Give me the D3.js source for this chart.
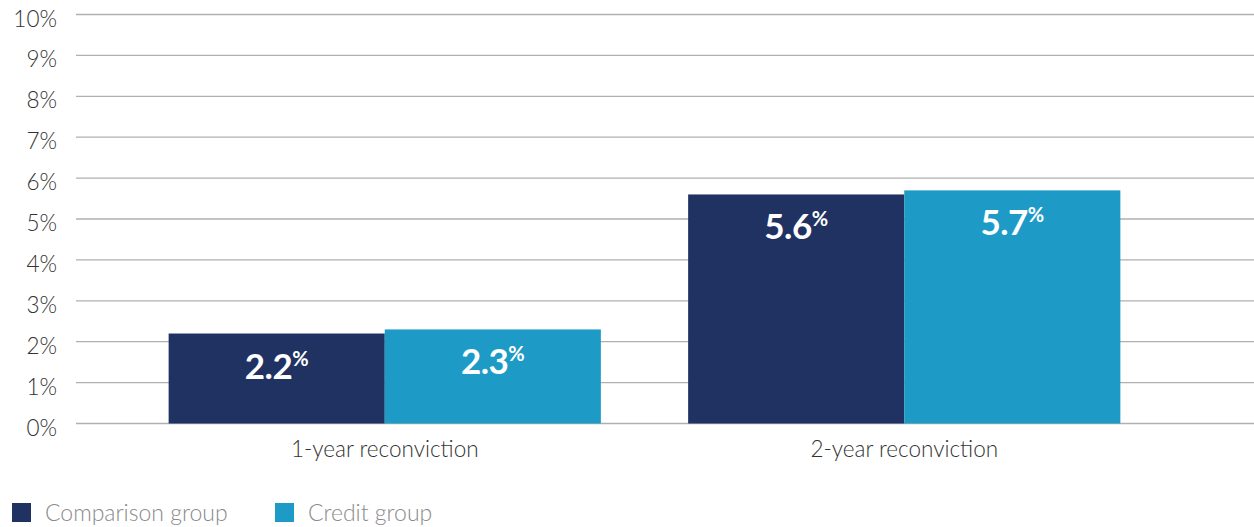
<!DOCTYPE html>
<html>
<head>
<meta charset="utf-8">
<script src="https://cdn.jsdelivr.net/npm/d3@7"></script>
<style>
  html, body { margin: 0; padding: 0; background: #fff; }
  svg { display: block; }
</style>
</head>
<body>
<svg id="chart" width="1254" height="527"></svg>
<script>
// Reconviction rates by follow-up window
const categories = ["1-year reconviction", "2-year reconviction"];
const seriesNames = ["Comparison group", "Credit group"];
const comparisonValues = [2.2, 5.6];
const creditValues = [2.3, 5.7];
const yTicks = [0, 1, 2, 3, 4, 5, 6, 7, 8, 9, 10];

const colors = ["#203262", "#1d9bc6"];
const seriesValues = [comparisonValues, creditValues];

const svg = d3.select("#chart");
const W = 1254;
const gridLeft = 76, gridRight = W;
const yTop = 14.5, yBottom = 423.5;
const textFont = "Lato, 'Open Sans', sans-serif";

const y = d3.scaleLinear().domain([0, 10]).range([yBottom, yTop]);
const x0 = d3.scaleBand().domain(categories).range([125, 1164])
  .paddingInner(0.168).paddingOuter(0.084);
const x1 = d3.scaleBand().domain(seriesNames).range([0, x0.bandwidth()]);

// Horizontal gridlines
svg.append("g").selectAll("line").data(yTicks).join("line")
  .attr("x1", gridLeft).attr("x2", gridRight)
  .attr("y1", d => y(d)).attr("y2", d => y(d))
  .attr("stroke", "#b0b0b0").attr("stroke-width", 1.3);

// Y-axis labels
svg.append("g").selectAll("text").data(yTicks).join("text")
  .attr("x", 57).attr("y", d => y(d) + 12)
  .attr("text-anchor", "end")
  .attr("font-family", textFont).attr("font-weight", 300)
  .attr("font-size", 22.5).attr("fill", "#333333")
  .text(d => d + "%");

// Bars
const groups = svg.append("g").selectAll("g").data(categories).join("g")
  .attr("transform", c => `translate(${x0(c)},0)`);

groups.selectAll("rect")
  .data((c, i) => seriesNames.map((s, j) => ({ s, v: seriesValues[j][i], j })))
  .join("rect")
  .attr("x", d => x1(d.s))
  .attr("y", d => y(d.v))
  .attr("width", x1.bandwidth())
  .attr("height", d => y(0) - y(d.v))
  .attr("fill", d => colors[d.j]);

// Value labels with superscript percent sign
const labels = groups.selectAll("text.val")
  .data((c, i) => seriesNames.map((s, j) => ({ s, v: seriesValues[j][i], j })))
  .join("text").attr("class", "val")
  .attr("x", d => x1(d.s) + x1.bandwidth() / 2)
  .attr("y", d => y(d.v) + 45)
  .attr("text-anchor", "middle")
  .attr("font-family", "Lato, sans-serif")
  .attr("font-weight", 700)
  .attr("fill", "#ffffff");
labels.append("tspan").attr("font-size", 35).attr("letter-spacing", -0.5)
  .text(d => d3.format(".1f")(d.v));
labels.append("tspan").attr("font-size", 20).attr("dy", -13).text("%");

// Category labels
svg.append("g").selectAll("text").data(categories).join("text")
  .attr("x", c => x0(c) + x0.bandwidth() / 2)
  .attr("y", 457)
  .attr("text-anchor", "middle")
  .attr("font-family", textFont).attr("font-weight", 300)
  .attr("font-size", 22.5).attr("fill", "#333333")
  .text(c => c);

// Legend
const legendX = [12, 275];
const legend = svg.append("g").selectAll("g").data(seriesNames).join("g")
  .attr("transform", (d, i) => `translate(${legendX[i]},503)`);
legend.append("rect").attr("width", 19).attr("height", 19)
  .attr("fill", (d, i) => colors[i]);
legend.append("text").attr("x", 33).attr("y", 18)
  .attr("font-family", textFont).attr("font-weight", 300)
  .attr("font-size", 23).attr("fill", "#8a8a8a")
  .text(d => d);
</script>
</body>
</html>
